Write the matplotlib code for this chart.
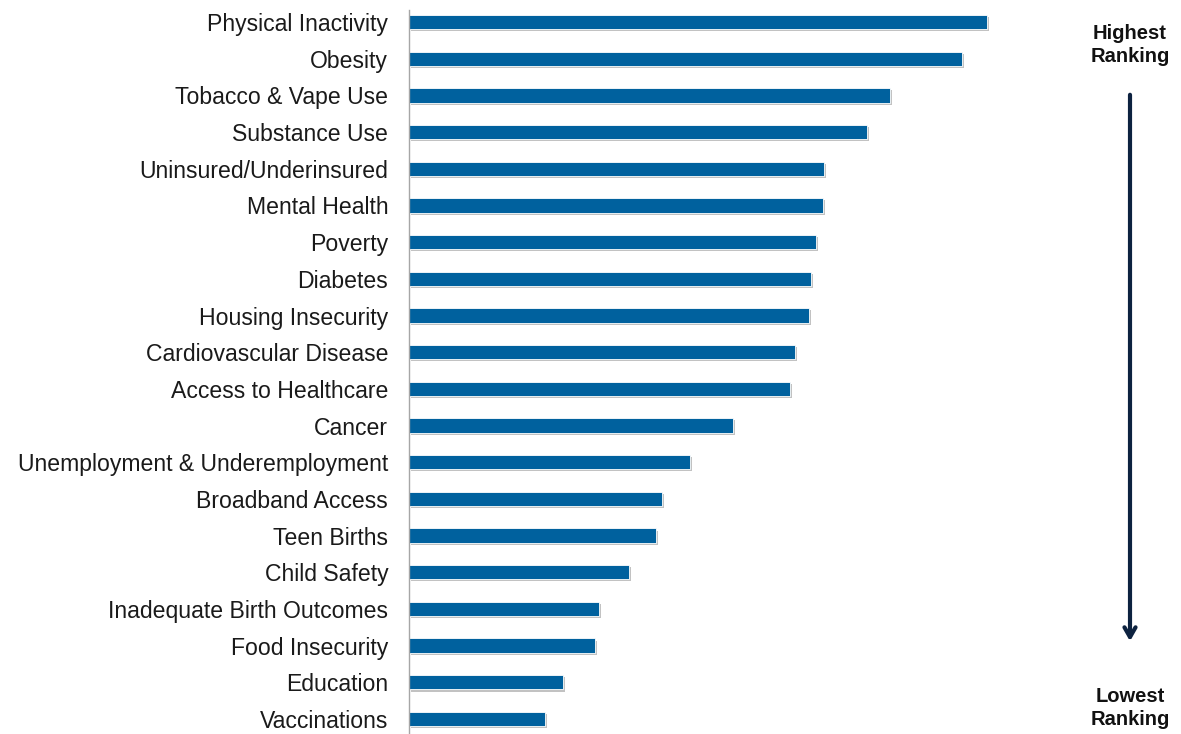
import matplotlib
matplotlib.use("Agg")
import matplotlib.pyplot as plt
import matplotlib.patheffects as pe

plt.rcParams["font.family"] = ["Liberation Sans", "DejaVu Sans"]

issues = [
    "Physical Inactivity", "Obesity", "Tobacco & Vape Use", "Substance Use",
    "Uninsured/Underinsured", "Mental Health", "Poverty", "Diabetes",
    "Housing Insecurity", "Cardiovascular Disease", "Access to Healthcare",
    "Cancer", "Unemployment & Underemployment", "Broadband Access",
    "Teen Births", "Child Safety", "Inadequate Birth Outcomes",
    "Food Insecurity", "Education", "Vaccinations",
]
scores = [578, 553, 481, 458, 415, 414, 407, 402, 400, 386,
          381, 324, 281, 253, 247, 220, 190, 186, 154, 136]

BAR_COLOR = "#00619e"
ARROW_COLOR = "#0d2240"

fig = plt.figure(figsize=(11.81, 7.34), dpi=100)
ax = fig.add_axes([409 / 1181, 0, 1 - 409 / 1181, 724 / 734])

ypos = list(range(len(issues)))
bars = ax.barh(ypos, scores, height=0.39, color=BAR_COLOR,
               edgecolor="white", linewidth=0.6)
for b in bars:
    b.set_path_effects([pe.SimplePatchShadow(offset=(1.5, -1.5), shadow_rgbFace="#9a9a9a", alpha=0.6),
                        pe.Normal()])

ax.set_xlim(0, 772)
ax.set_ylim(19.41, -0.33)
ax.set_yticks(ypos)
ax.set_yticklabels(issues, fontsize=16.6, color="#1a1a1a")
ax.tick_params(axis="y", length=0, pad=15)
ax.set_xticks([])
for s in ["top", "right", "bottom"]:
    ax.spines[s].set_visible(False)
ax.spines["left"].set_color("#a6a6a6")
ax.spines["left"].set_linewidth(1.0)

# ranking direction indicator on the right
fig.text(1130 / 1181, 1 - 45 / 734, "Highest\nRanking", ha="center", va="center",
         fontsize=14.5, fontweight="bold", linespacing=1.3, color="#111111")
fig.text(1130 / 1181, 1 - 708 / 734, "Lowest\nRanking", ha="center", va="center",
         fontsize=14.5, fontweight="bold", linespacing=1.3, color="#111111")
fig.patches.append(matplotlib.patches.FancyArrowPatch(
    (1130 / 1181, 1 - 92 / 734), (1130 / 1181, 1 - 644 / 734),
    transform=fig.transFigure, arrowstyle="->,head_length=7,head_width=4",
    color=ARROW_COLOR, linewidth=3.0, mutation_scale=1))

fig.savefig("out.png", dpi=100)
